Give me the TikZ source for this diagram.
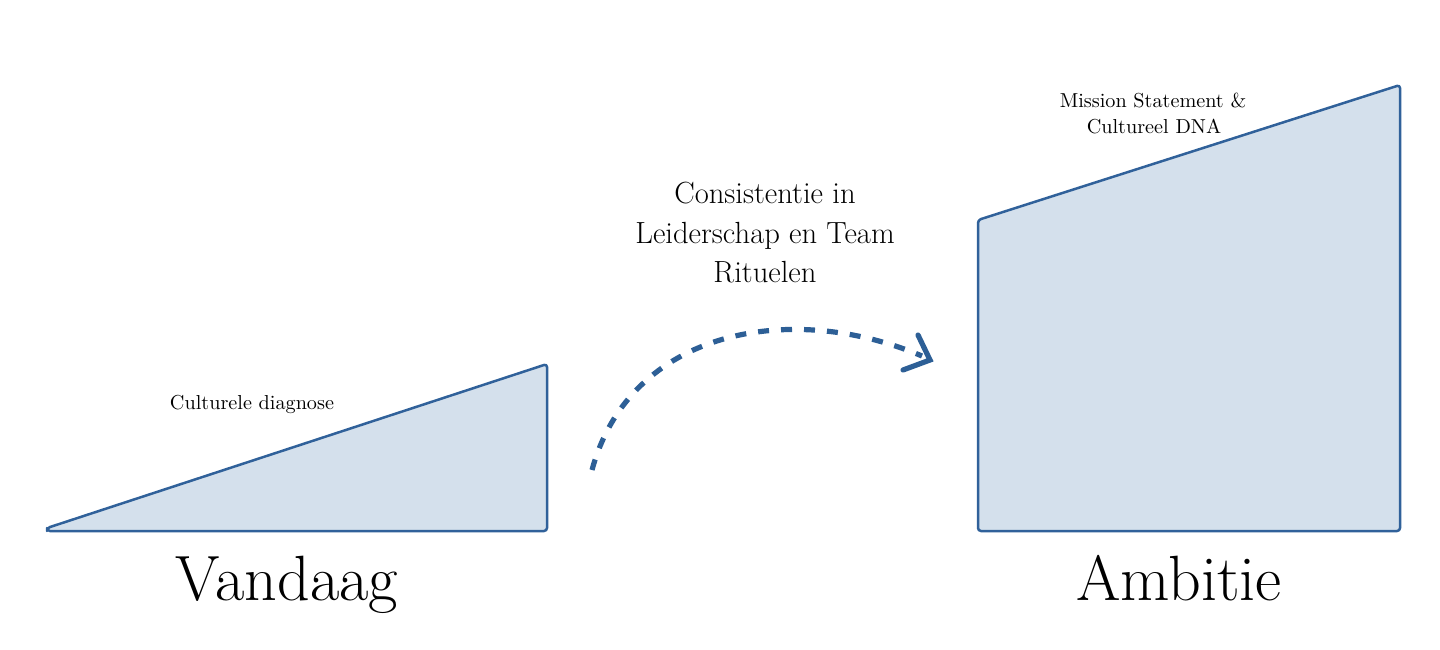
\documentclass[tikz,border=0pt]{standalone}
\usepackage{fontspec}
\begin{document}
\begin{tikzpicture}[x=0.5pt,y=-0.5pt,
  shapeblk/.style={draw=strokeblue,fill=fillblue,line width=1.25pt,rounded corners=1.5pt,line join=round},
  flowline/.style={draw=arrowblue,line width=2.6pt,dash pattern=on 5.5pt off 6pt},
  chev/.style={draw=arrowblue,line width=2.6pt,line cap=round,line join=miter},
  bigtxt/.style={anchor=base,inner sep=0pt,font=\fontsize{32}{38}\selectfont,text=black},
  midtxt/.style={anchor=base,inner sep=0pt,font=\fontsize{15.3}{20}\selectfont,text=black},
  smalltxt/.style={anchor=base,inner sep=0pt,font=\fontsize{10.1}{12}\selectfont,text=black}]
\definecolor{strokeblue}{HTML}{30619A}
\definecolor{fillblue}{HTML}{D4E0EC}
\definecolor{arrowblue}{HTML}{2D5F96}
\useasboundingbox (0,0) rectangle (1440,649);
% left shape
\path[shapeblk] (47,528) -- (547,364) -- (547,531) -- (47,531) -- cycle;
% right shape
\path[shapeblk] (978,531) -- (978,220) -- (1400,85) -- (1400,531) -- cycle;
% curved dashed arrow
\coordinate (s) at (592,470);
\coordinate (e) at (922,356);
\coordinate (t) at (930,360);
\coordinate (a1) at (918,335);
\coordinate (a2) at (903,370);
\path[flowline] (s) .. controls (630,330) and (790,300) .. (e);
\path[chev] (a1) -- (t) -- (a2);
% texts
\node[smalltxt] (cd) at (252,409) {Culturele diagnose};
\node[smalltxt] (ms1) at (1153,107) {Mission Statement \&};
\node[smalltxt] (ms2) at (1154,133) {Cultureel DNA};
\node[midtxt] (m1) at (765,203) {Consistentie in};
\node[midtxt] (m2) at (765,243) {Leiderschap en Team};
\node[midtxt] (m3) at (765,282) {Rituelen};
\node[bigtxt] (va) at (287,600) {Vandaag};
\node[bigtxt] (am) at (1179,600) {Ambitie};
\end{tikzpicture}
\end{document}
